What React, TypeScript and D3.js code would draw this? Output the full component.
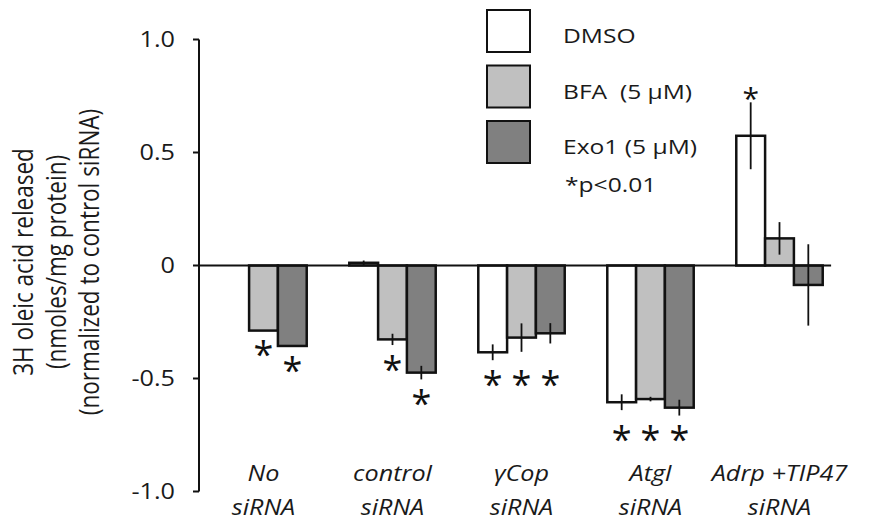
import React from "react";
import * as d3 from "d3";

// categories (two-line labels) and series
const catLine1 = ["No", "control", "γCop", "Atgl", "Adrp +TIP47"];
const catLine2 = ["siRNA", "siRNA", "siRNA", "siRNA", "siRNA"];
const seriesNames = ["DMSO", "BFA  (5 μM)", "Exo1 (5 μM)"];
const seriesColors = ["#ffffff", "#c0c0c0", "#808080"];

// mean values (normalized to control siRNA)
const dmso = [0, 0.012, -0.384, -0.605, 0.574];
const bfa = [-0.288, -0.327, -0.319, -0.591, 0.12];
const exo1 = [-0.356, -0.474, -0.3, -0.629, -0.086];

// error bar half-lengths
const dmsoErr = [0, 0.01, 0.035, 0.035, 0.148];
const bfaErr = [0, 0.025, 0.063, 0.01, 0.072];
const exo1Err = [0, 0.03, 0.045, 0.035, 0.18];

// significance (*p<0.01)
const dmsoSig = [false, false, true, true, true];
const bfaSig = [true, true, true, true, false];
const exo1Sig = [true, true, true, true, false];

const yTicks = [-1, -0.5, 0, 0.5, 1];
const yTickLabels = ["-1.0", "-0.5", "0", "0.5", "1.0"];
const yTitle = ["3H oleic acid released", "(nmoles/mg protein)", "(normalized to control siRNA)"];
const sigNote = "*p<0.01";

const values = [dmso, bfa, exo1];
const errors = [dmsoErr, bfaErr, exo1Err];
const sigs = [dmsoSig, bfaSig, exo1Sig];

const W = 879, H = 522;
const FONT = "'Open Sans', sans-serif";
const SX = 1.2; // horizontal stretch of the original lettering

const App = () => {
  const cats = catLine1.map((d, i) => `${d} ${catLine2[i]}`);

  const x0 = d3.scaleBand<string>()
    .domain(cats)
    .range([199, 844])
    .paddingInner(0.33)
    .paddingOuter(0.165);

  const x1 = d3.scaleBand<number>()
    .domain(d3.range(seriesNames.length))
    .range([0, x0.bandwidth()]);

  const y = d3.scaleLinear().domain([-1, 1]).range([491.5, 39.5]);

  const axisX = x0.range()[0];
  const zeroEnd = x0.range()[1] - x0.step() * 0.1;

  // star positions
  const stars: { x: number; y: number; size: number }[] = [];
  cats.forEach((c, j) => {
    const all = sigs.every(s => s[j]);
    const lowest = d3.max(values.map((v, i) => y(v[j] - errors[i][j])))!;
    values.forEach((v, i) => {
      if (!sigs[i][j]) return;
      const cx = x0(c)! + x1(i)! + x1.bandwidth() / 2;
      if (v[j] >= 0) {
        stars.push({ x: cx, y: y(v[j] + errors[i][j]) - 10, size: 30 });
      } else {
        const base = all ? lowest : y(v[j] - errors[i][j]);
        stars.push({ x: cx, y: base + 17, size: 36 });
      }
    });
  });

  const legendX = 487, legendY = 10, legendStep = 55.5;

  return (
    <svg width={W} height={H} style={{ position: "absolute", left: 0, top: 0, background: "#fff" }}
      fontFamily={FONT}>
      {/* y axis */}
      <line x1={axisX} x2={axisX} y1={y(1)} y2={y(-1)} stroke="#111" strokeWidth={2} />
      {yTicks.map((t, i) => (
        <g key={t}>
          <line x1={axisX - 6} x2={axisX} y1={y(t)} y2={y(t)} stroke="#111" strokeWidth={2} />
          <g transform={`translate(${axisX - 24},${y(t)}) scale(${SX},1)`}>
            <text textAnchor="end" dy="0.36em" fontSize={21} fill="#1a1a1a">{yTickLabels[i]}</text>
          </g>
        </g>
      ))}

      {/* y title */}
      {yTitle.map((t, i) => (
        <g key={t} transform={`translate(${33 + i * 33},262) scale(${SX},1) rotate(-90)`}>
          <text textAnchor="middle" fontSize={22.5} fill="#1a1a1a">{t}</text>
        </g>
      ))}

      {/* bars */}
      {values.map((v, i) => (
        <g key={i} fill={seriesColors[i]} stroke="#111" strokeWidth={2.5}>
          {v.map((d, j) => (
            <rect key={j}
              x={x0(cats[j])! + x1(i)!}
              y={y(Math.max(0, d))}
              width={x1.bandwidth()}
              height={Math.abs(y(d) - y(0))} />
          ))}
        </g>
      ))}

      {/* zero line */}
      <line x1={axisX} x2={zeroEnd} y1={y(0)} y2={y(0)} stroke="#111" strokeWidth={1.8} />

      {/* error bars */}
      {values.map((v, i) => (
        <g key={i} stroke="#111" strokeWidth={1.8}>
          {v.map((d, j) => errors[i][j] > 0 && (
            <line key={j}
              x1={x0(cats[j])! + x1(i)! + x1.bandwidth() / 2}
              x2={x0(cats[j])! + x1(i)! + x1.bandwidth() / 2}
              y1={y(d - errors[i][j])}
              y2={y(d + errors[i][j])} />
          ))}
        </g>
      ))}

      {/* significance stars */}
      {stars.map((s, k) => (
        <text key={k} x={s.x} y={s.y} dy="0.55em" textAnchor="middle" fontSize={s.size}
          fill="#111">*</text>
      ))}

      {/* category labels */}
      {cats.map((c, j) => {
        const cx = x0(c)! + x0.bandwidth() / 2;
        return (
          <g key={c} transform={`translate(${cx},0) scale(${SX},1)`} fontStyle="italic" fontSize={21} fill="#1a1a1a">
            <text textAnchor="middle" y={481.5}>{catLine1[j]}</text>
            <text textAnchor="middle" y={515}>{catLine2[j]}</text>
          </g>
        );
      })}

      {/* legend */}
      {seriesNames.map((s, i) => {
        const by = legendY + i * legendStep;
        return (
          <g key={s}>
            <rect x={legendX} y={by} width={43} height={42} fill={seriesColors[i]} stroke="#111" strokeWidth={2} />
            <g transform={`translate(${legendX + 76},${by + 33}) scale(${SX},1)`}>
              <text fontSize={20.5} fill="#1a1a1a" style={{ whiteSpace: "pre" }}>{s}</text>
            </g>
          </g>
        );
      })}
      <g transform={`translate(${legendX + 78},${legendY + 3 * legendStep + 15}) scale(${SX},1)`}>
        <text fontSize={20.5} fill="#1a1a1a">{sigNote}</text>
      </g>
    </svg>
  );
};

export default App;
